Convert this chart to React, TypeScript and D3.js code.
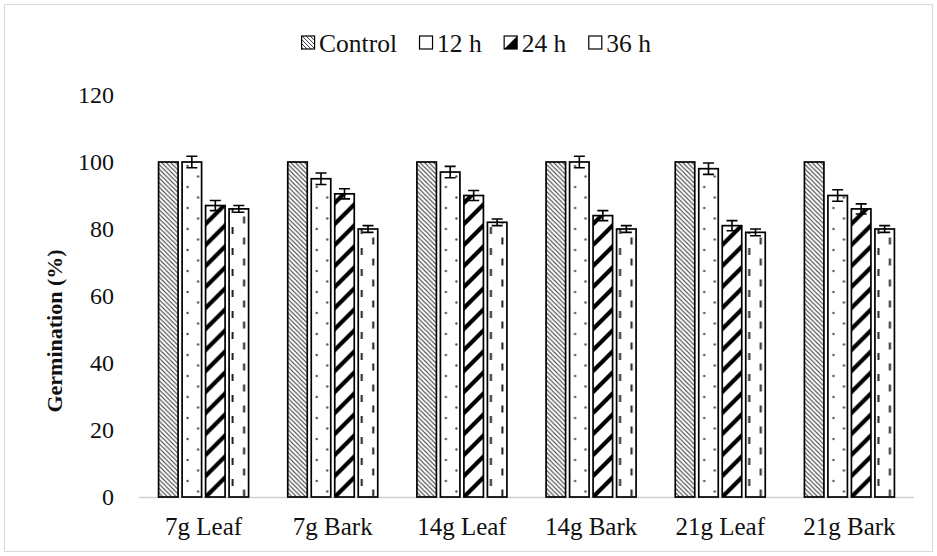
import React from "react";
import * as d3 from "d3";

const categories = ["7g Leaf", "7g Bark", "14g Leaf", "14g Bark", "21g Leaf", "21g Bark"];
const seriesNames = ["Control", "12 h", "24 h", "36 h"];
const control = [100, 100, 100, 100, 100, 100];
const h12 = [100, 95, 97, 100, 98, 90];
const h24 = [87, 90.5, 90, 84, 81, 86];
const h36 = [86, 80, 82, 80, 79, 80];
const err12 = [1.7, 1.7, 1.7, 1.7, 1.7, 1.7];
const err24 = [1.5, 1.5, 1.5, 1.5, 1.5, 1.5];
const err36 = [1, 1, 1, 1, 1, 1];
const yTicks = [0, 20, 40, 60, 80, 100, 120];

const W = 937;
const H = 556;
const FONT = '"Liberation Serif", "DejaVu Serif", serif';

const App = () => {
  const ref = React.useRef<SVGSVGElement>(null);

  React.useEffect(() => {
    document.body.style.margin = "0";
    const svg = d3.select(ref.current);
    svg.selectAll("*").remove();

    svg.append("rect")
      .attr("x", 0).attr("y", 0).attr("width", W).attr("height", H)
      .attr("fill", "white");
    // outer frame
    svg.append("rect")
      .attr("x", 4.5).attr("y", 4.5).attr("width", W - 9).attr("height", H - 9)
      .attr("fill", "none").attr("stroke", "#d9d9d9").attr("stroke-width", 1);

    const x = d3.scaleBand().domain(categories).range([139, 914]);
    const groupW = 90;
    const xInner = d3.scaleBand().domain(seriesNames)
      .range([x.bandwidth() / 2 - groupW / 2, x.bandwidth() / 2 + groupW / 2])
      .paddingInner(0.17);
    const y = d3.scaleLinear().domain([0, 120]).range([497, 95]);

    const values = [control, h12, h24, h36];
    const errors = [null, err12, err24, err36];
    const defs = svg.append("defs");
    const bw = xInner.bandwidth();

    // one pattern per bar so the fill lines up with the bar
    const makePattern = (id: string, s: number, px: number) => {
      if (s === 0) {
        const p = defs.append("pattern").attr("id", id)
          .attr("patternUnits", "userSpaceOnUse")
          .attr("x", px).attr("y", y(0))
          .attr("width", 4.5).attr("height", 4.5);
        p.append("rect").attr("width", 4.5).attr("height", 4.5).attr("fill", "white");
        p.append("path").attr("d", "M0,0L4.5,4.5M-1,3.5L1,5.5M3.5,-1L5.5,1")
          .attr("stroke", "#3a3a3a").attr("stroke-width", 1.1);
      } else if (s === 1) {
        const p = defs.append("pattern").attr("id", id)
          .attr("patternUnits", "userSpaceOnUse")
          .attr("x", px).attr("y", y(0))
          .attr("width", bw).attr("height", 21);
        p.append("rect").attr("width", bw).attr("height", 21).attr("fill", "white");
        p.append("circle").attr("cx", 5.5).attr("cy", 5).attr("r", 1.2).attr("fill", "#555");
        p.append("circle").attr("cx", 16).attr("cy", 15.5).attr("r", 1.2).attr("fill", "#555");
      } else if (s === 2) {
        const p = defs.append("pattern").attr("id", id)
          .attr("patternUnits", "userSpaceOnUse")
          .attr("x", px).attr("y", y(0))
          .attr("width", 21).attr("height", 21);
        p.append("rect").attr("width", 21).attr("height", 21).attr("fill", "white");
        p.append("path").attr("d", "M-6,6L6,-6M0,21L21,0M15,27L27,15")
          .attr("stroke", "black").attr("stroke-width", 4.2);
      } else {
        const p = defs.append("pattern").attr("id", id)
          .attr("patternUnits", "userSpaceOnUse")
          .attr("x", px).attr("y", y(0))
          .attr("width", bw).attr("height", 21);
        p.append("rect").attr("width", bw).attr("height", 21).attr("fill", "white");
        p.append("path").attr("d", "M3.5,3L3.5,10M15,13.5L15,20.5")
          .attr("stroke", "#222").attr("stroke-width", 2);
      }
    };

    // baseline
    svg.append("line")
      .attr("x1", x.range()[0]).attr("x2", x.range()[1])
      .attr("y1", y(0) + 0.5).attr("y2", y(0) + 0.5)
      .attr("stroke", "#d0d0d0").attr("stroke-width", 1.5);

    const g = svg.append("g");
    categories.forEach((c, ci) => {
      seriesNames.forEach((s, si) => {
        const bx = (x(c) as number) + (xInner(s) as number);
        const v = values[si][ci];
        const id = "pat" + ci + "_" + si;
        makePattern(id, si, bx);
        g.append("rect")
          .attr("x", bx).attr("y", y(v))
          .attr("width", bw).attr("height", y(0) - y(v))
          .attr("fill", "url(#" + id + ")")
          .attr("stroke", "black").attr("stroke-width", 1.7);
        const e = errors[si];
        if (e) {
          const cx = bx + bw / 2;
          const cap = 5.5;
          g.append("path")
            .attr("d", `M${cx},${y(v + e[ci])}V${y(v - e[ci])}M${cx - cap},${y(v + e[ci])}H${cx + cap}M${cx - cap},${y(v - e[ci])}H${cx + cap}`)
            .attr("stroke", "black").attr("stroke-width", 1.6).attr("fill", "none");
        }
      });
      svg.append("text")
        .attr("x", (x(c) as number) + x.bandwidth() / 2)
        .attr("y", 535)
        .attr("text-anchor", "middle")
        .style("font-family", FONT).style("font-size", "25px")
        .attr("fill", "#111")
        .text(c);
    });

    // y tick labels
    yTicks.forEach((t) => {
      svg.append("text")
        .attr("x", 114).attr("y", y(t) + 8)
        .attr("text-anchor", "end")
        .style("font-family", FONT).style("font-size", "24px")
        .attr("fill", "#111")
        .text(t);
    });

    // y title
    svg.append("text")
      .attr("transform", "translate(62,331) rotate(-90)")
      .attr("text-anchor", "middle")
      .style("font-family", FONT).style("font-size", "22px").style("font-weight", "bold")
      .attr("fill", "#111")
      .text("Germination (%)");

    // legend
    const leg = svg.append("g");
    const legDefs = defs.append("pattern").attr("id", "legCtrl")
      .attr("patternUnits", "userSpaceOnUse").attr("width", 4).attr("height", 4);
    legDefs.append("rect").attr("width", 4).attr("height", 4).attr("fill", "white");
    legDefs.append("path").attr("d", "M0,0L4,4M-1,3L1,5M3,-1L5,1").attr("stroke", "#333").attr("stroke-width", 1);
    let cursor = 0;
    seriesNames.forEach((s, si) => {
      const it = leg.append("g").attr("transform", `translate(${cursor},0)`);
      it.append("rect").attr("x", 0.5).attr("y", -7).attr("width", 13).attr("height", 13)
        .attr("fill", si === 0 ? "url(#legCtrl)" : "white")
        .attr("stroke", "black").attr("stroke-width", 1.2);
      if (si === 2) {
        it.append("path").attr("d", "M13.5,-7L13.5,6L0.5,6Z").attr("fill", "black");
      }
      const tx = it.append("text").attr("x", 18).attr("y", 8.5)
        .style("font-family", FONT).style("font-size", "25.5px").attr("fill", "#111")
        .text(s);
      const tw = (tx.node() as SVGTextElement).getComputedTextLength();
      cursor += 18 + tw + 22;
    });
    const total = cursor - 22;
    leg.attr("transform", `translate(${476 - total / 2},43)`);
  }, []);

  return (
    <div style={{ position: "absolute", left: 0, top: 0 }}>
      <svg ref={ref} width={W} height={H} style={{ display: "block", fontFamily: FONT }}></svg>
    </div>
  );
};

export default App;
